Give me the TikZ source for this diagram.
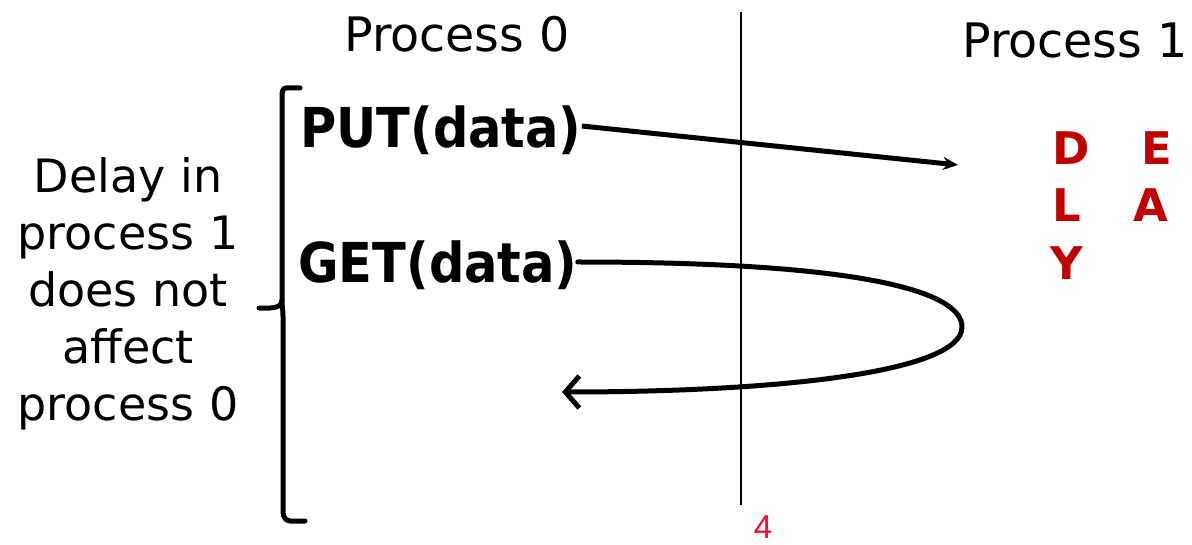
\documentclass[tikz,border=0pt]{standalone}
\usepackage{fontspec}
\setmainfont{DejaVu Sans}
\newfontfamily\condfont{DejaVu Sans}[FakeStretch=0.9]
\newfontfamily\numfont{Liberation Sans}
\usetikzlibrary{arrows.meta}
\definecolor{delayred}{HTML}{C00000}
\definecolor{pagered}{HTML}{FF0033}
\tikzset{
  plain/.style={inner sep=0pt, font=\fontsize{46}{57}\selectfont},
  title/.style={inner sep=0pt, anchor=base, font=\fontsize{47.5}{57}\selectfont},
  call/.style={inner sep=0pt, anchor=base west, font=\condfont\bfseries\fontsize{55}{60}\selectfont},
  letter/.style={inner sep=0pt, anchor=base west, text=delayred, font=\bfseries\fontsize{45}{50}\selectfont},
  thick line/.style={line width=5pt, line cap=round, line join=round},
}
\begin{document}
\begin{tikzpicture}[x=1pt,y=-1pt]
\useasboundingbox (0,0) rectangle (1192,545);
% titles
\node[title] (p0) at (457,52) {Process 0};
\node[title] (p1) at (1075,58) {Process 1};
% divider
\coordinate (vtop) at (741,12);
\coordinate (vbot) at (741,505);
\draw[line width=2pt] (vtop) -- (vbot);
% left explanation
\node[plain, align=center, anchor=center] (expl) at (128,294)
  {Delay in\\process 1\\does not\\affect\\process 0};
% brace
\coordinate (btop) at (300,88);
\coordinate (bbot) at (305,521);
\coordinate (btip) at (259,308);
\draw[thick line] (btop) -- (286,88) to[out=180,in=90] (282,96) -- (282,300)
  to[out=-90,in=0] (btip);
\draw[thick line] (282,300) to[out=-90,in=90] (283,316) -- (283,512)
  to[out=-90,in=180] (290,521) -- (bbot);
% calls
\node[call] (put) at (300,148) {PUT(data)};
\node[call] (get) at (298,283) {GET(data)};
% delay letters
\node[letter] (lD) at (1052,165) {D};
\node[letter] (lE) at (1141,165) {E};
\node[letter] (lL) at (1052,222) {L};
\node[letter] (lA) at (1133,222) {A};
\node[letter] (lY) at (1050,280) {Y};
% arrows
\coordinate (putend) at (958,165);
\draw[line width=5pt, -{Stealth[length=15pt,width=13pt]}] (put.east |- 0,126) -- (putend);
\coordinate (getend) at (562,392);
\draw[line width=5pt, line cap=round, -{Straight Barb[length=14pt,width=32pt,line width=5pt]}]
  (get.east |- 0,262) .. controls (880,262) and (962,295) .. (962,327)
  .. controls (962,372) and (780,392) .. (getend);
% page number
\node[inner sep=0pt, anchor=base, text=pagered, font=\numfont\fontsize{33}{36}\selectfont] (pg) at (763,538) {4};
\end{tikzpicture}
\end{document}
